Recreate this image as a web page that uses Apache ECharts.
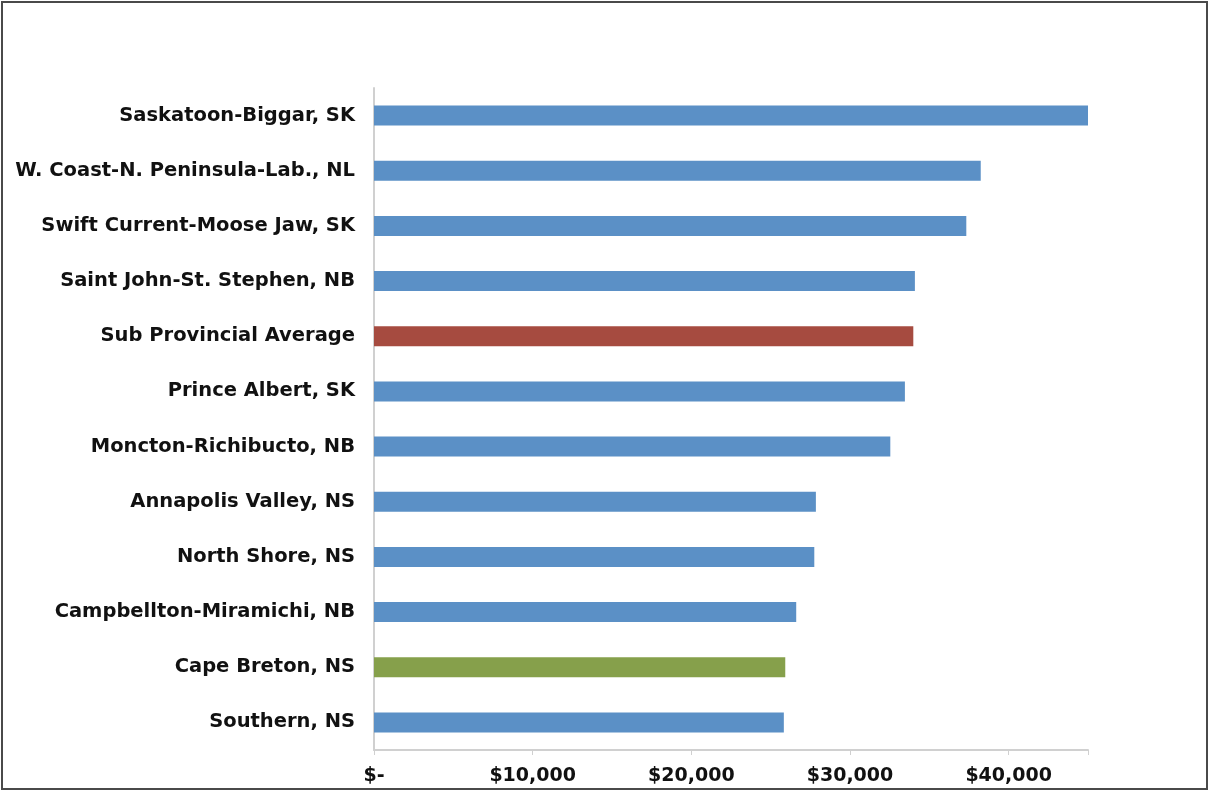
<!DOCTYPE html>
<html>
<head>
<meta charset="utf-8">
<script src="https://cdn.jsdelivr.net/npm/echarts@6/dist/echarts.min.js"></script>
<style>
html,body{margin:0;padding:0;background:#fff;}
#chart{width:1211px;height:792px;}
</style>
</head>
<body>
<div id="chart"></div>
<script>
const categories = [
  "Saskatoon-Biggar, SK",
  "W. Coast-N. Peninsula-Lab., NL",
  "Swift Current-Moose Jaw, SK",
  "Saint John-St. Stephen, NB",
  "Sub Provincial Average",
  "Prince Albert, SK",
  "Moncton-Richibucto, NB",
  "Annapolis Valley, NS",
  "North Shore, NS",
  "Campbellton-Miramichi, NB",
  "Cape Breton, NS",
  "Southern, NS"
];
const values = [45000, 38240, 37330, 34090, 33990, 33460, 32540, 27850, 27750, 26610, 25920, 25830];
const barColors = ["#5b90c6","#5b90c6","#5b90c6","#5b90c6","#a64b40","#5b90c6","#5b90c6","#5b90c6","#5b90c6","#5b90c6","#86a04b","#5b90c6"];
const xTicks = [0, 10000, 20000, 30000, 40000];

const chart = echarts.init(document.getElementById('chart'));
chart.setOption({
  animation: false,
  backgroundColor: '#ffffff',
  graphic: [{
    type: 'rect',
    shape: { x: 2, y: 2, width: 1205, height: 787 },
    style: { fill: 'none', stroke: '#4a4a4a', lineWidth: 2 },
    silent: true
  }],
  grid: { left: 374, right: 123, top: 88, bottom: 42, containLabel: false },
  xAxis: {
    type: 'value',
    min: 0,
    max: 45000,
    interval: 10000,
    axisLine: { show: true, lineStyle: { color: '#d0d0d0', width: 2 } },
    axisTick: { show: true, length: 5, lineStyle: { color: '#d0d0d0', width: 1 } },
    splitLine: { show: false },
    axisLabel: {
      margin: 17,
      fontFamily: 'DejaVu Sans',
      fontWeight: 'bold',
      fontSize: 19,
      color: '#111',
      formatter: v => xTicks.includes(v) ? (v === 0 ? '$-' : '$' + v.toLocaleString('en-US')) : ''
    }
  },
  yAxis: {
    type: 'category',
    data: categories,
    inverse: true,
    axisLine: { show: true, lineStyle: { color: '#d0d0d0', width: 2 } },
    axisTick: { show: false },
    axisLabel: {
      margin: 19,
      fontFamily: 'DejaVu Sans',
      fontWeight: 'bold',
      fontSize: 19.5,
      color: '#111'
    }
  },
  series: [{
    type: 'bar',
    data: values.map((v, i) => ({ value: v, itemStyle: { color: barColors[i] } })),
    barWidth: 20
  }]
});
</script>
</body>
</html>
